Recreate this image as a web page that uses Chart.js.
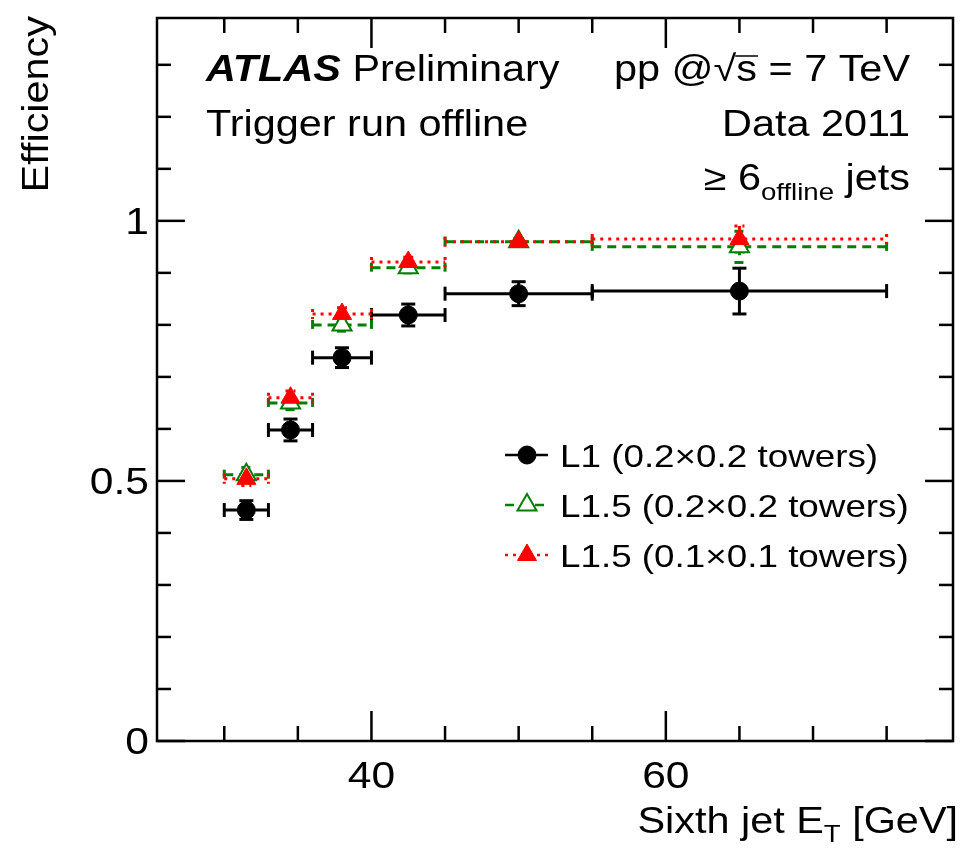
<!DOCTYPE html>
<html>
<head>
<meta charset="utf-8">
<script src="https://cdn.jsdelivr.net/npm/chart.js@4.4.0/dist/chart.umd.min.js"></script>
<style>
html,body{margin:0;padding:0;background:#fff;}
#wrap{width:966px;height:848px;}
</style>
</head>
<body>
<div id="wrap"><canvas id="c" width="966" height="848"></canvas></div>
<script>
// bins in sixth jet ET [GeV]
const binEdges = [30, 33, 36, 40, 45, 55, 75];

// L1 (0.2x0.2 towers)
const l1Eff = [0.444, 0.598, 0.737, 0.819, 0.860, 0.865];
const l1Err = [0.018, 0.021, 0.019, 0.021, 0.023, 0.044];
// L1.5 (0.2x0.2 towers)
const l15wideEff = [0.512, 0.650, 0.800, 0.910, 0.960, 0.950];
const l15wideErr = [0.014, 0.013, 0.012, 0.010, 0.006, 0.030];
// L1.5 (0.1x0.1 towers)
const l15fineEff = [0.504, 0.660, 0.821, 0.921, 0.960, 0.965];
const l15fineErr = [0.013, 0.013, 0.012, 0.009, 0.006, 0.025];

const xTickLabels = [40, 60];
const yTickLabels = [0, 0.5, 1];
const xMinorTicks = [30, 35, 40, 45, 50, 55, 60, 65, 70, 75];
const yMinorTicks = [0, 0.1, 0.2, 0.3, 0.4, 0.5, 0.6, 0.7, 0.8, 0.9, 1, 1.1, 1.2, 1.3];

const FONT = '"Liberation Sans", Arial, sans-serif';
const SX = 1.15;   // root's helvetica runs wider than arial
const GREEN = '#007f00';
const RED = '#ff0000';

function toPoints(eff){
    return eff.map((v,i)=>({x:(binEdges[i]+binEdges[i+1])/2, y:v}));
}

const datasets = [
    { label:'L1 (0.2\u00d70.2 towers)', data:toPoints(l1Eff), err:l1Err,
      pointStyle:'circle', pointRadius:9, backgroundColor:'#000', borderColor:'#000', pointBorderWidth:1,
      dash:[], errWidth:3, cap:7, order:2 },
    { label:'L1.5 (0.2\u00d70.2 towers)', data:toPoints(l15wideEff), err:l15wideErr,
      pointStyle:'triangle', pointRadius:11, backgroundColor:'#fff', borderColor:GREEN, pointBorderWidth:2,
      dash:[9,6], errWidth:3, cap:5, order:1 },
    { label:'L1.5 (0.1\u00d70.1 towers)', data:toPoints(l15fineEff), err:l15fineErr,
      pointStyle:'triangle', pointRadius:11, backgroundColor:RED, borderColor:RED, pointBorderWidth:1,
      dash:[3,5], errWidth:3, cap:5, order:0 }
];

function line(ctx,x0,y0,x1,y1){ ctx.beginPath(); ctx.moveTo(x0,y0); ctx.lineTo(x1,y1); ctx.stroke(); }

// stretched text, returns drawn width
function stext(ctx,str,x,y,align,size,style){
    ctx.save();
    ctx.font=(style?style+' ':'')+size+'px '+FONT;
    const w=ctx.measureText(str).width*SX;
    const x0 = align==='right' ? x-w : align==='center' ? x-w/2 : x;
    ctx.translate(x0,y); ctx.scale(SX,1);
    ctx.textAlign='left';
    ctx.fillText(str,0,0);
    ctx.restore();
    return w;
}
function textWidth(ctx,str,size,style){
    ctx.save(); ctx.font=(style?style+' ':'')+size+'px '+FONT;
    const w=ctx.measureText(str).width*SX; ctx.restore(); return w;
}

// Error bars (bin width + stat error)
const errorBars = {
    id:'errorBars',
    beforeDatasetsDraw(chart){
        const ctx=chart.ctx, xs=chart.scales.x, ys=chart.scales.y;
        ctx.save();
        chart.data.datasets.forEach(ds=>{
            ctx.strokeStyle=ds.borderColor; ctx.lineWidth=ds.errWidth; ctx.setLineDash(ds.dash);
            ds.data.forEach((p,i)=>{
                const x0=xs.getPixelForValue(binEdges[i]), x1=xs.getPixelForValue(binEdges[i+1]);
                const cx=xs.getPixelForValue(p.x), y=ys.getPixelForValue(p.y);
                const yHi=ys.getPixelForValue(p.y+ds.err[i]), yLo=ys.getPixelForValue(p.y-ds.err[i]);
                line(ctx,x0,y,x1,y);
                line(ctx,x0,y-ds.cap,x0,y+ds.cap);
                line(ctx,x1,y-ds.cap,x1,y+ds.cap);
                line(ctx,cx,yHi,cx,yLo);
                line(ctx,cx-ds.cap,yHi,cx+ds.cap,yHi);
                line(ctx,cx-ds.cap,yLo,cx+ds.cap,yLo);
            });
        });
        ctx.restore();
    }
};

// Frame, ticks, labels, texts, legend
const decorations = {
    id:'decorations',
    afterDraw(chart){
        const ctx=chart.ctx, a=chart.chartArea, xs=chart.scales.x, ys=chart.scales.y;
        ctx.save();
        ctx.strokeStyle='#000'; ctx.lineWidth=2.5; ctx.setLineDash([]);
        ctx.strokeRect(a.left,a.top,a.right-a.left,a.bottom-a.top);
        xMinorTicks.forEach(v=>{
            const x=xs.getPixelForValue(v), len=xTickLabels.includes(v)?30:15;
            line(ctx,x,a.bottom,x,a.bottom-len);
            line(ctx,x,a.top,x,a.top+len);
        });
        yMinorTicks.forEach(v=>{
            const y=ys.getPixelForValue(v), len=yTickLabels.includes(v)?28:14;
            line(ctx,a.left,y,a.left+len,y);
            line(ctx,a.right,y,a.right-len,y);
        });

        ctx.fillStyle='#000'; ctx.textBaseline='alphabetic';
        // tick labels from the scales
        xs.ticks.forEach(t=>stext(ctx,String(t.value),xs.getPixelForValue(t.value),788,'center',37));
        ys.ticks.forEach(t=>stext(ctx,String(t.value),149,ys.getPixelForValue(t.value)+13,'right',37));

        // header
        const wA=stext(ctx,'ATLAS ',206,81,'left',36,'italic bold');
        stext(ctx,'Preliminary',206+wA,81,'left',36);
        stext(ctx,'Trigger run offline',206,136,'left',36);
        stext(ctx,'Data 2011',910,136,'right',36);

        // pp @ sqrt(s) = 7 TeV
        const wTail=stext(ctx,' = 7 TeV',910,81,'right',36);
        const wS=textWidth(ctx,'s',36);
        stext(ctx,'s',910-wTail,81,'right',36);
        const sx0=910-wTail-wS;
        stext(ctx,'pp @\u221a',sx0,81,'right',36);
        ctx.lineWidth=1.5;
        line(ctx,sx0-1,56,sx0+wS+1,56);

        // >= 6_offline jets
        const wJ=stext(ctx,' jets',910,190,'right',36);
        const wOff=stext(ctx,'offline',910-wJ,200,'right',24);
        stext(ctx,'\u2265 6',910-wJ-wOff,190,'right',36);

        // axis titles
        const wG=stext(ctx,' [GeV]',958,833,'right',36);
        const wT=stext(ctx,'T',958-wG,842,'right',24);
        stext(ctx,'Sixth jet E',958-wG-wT,833,'right',36);
        ctx.save();
        ctx.translate(48,16); ctx.rotate(-Math.PI/2);
        stext(ctx,'Efficiency',0,0,'right',36);
        ctx.restore();

        // legend
        const rows=[455,505,555];
        chart.data.datasets.forEach((ds,i)=>{
            const y=rows[i];
            ctx.strokeStyle=ds.borderColor; ctx.lineWidth=2.5; ctx.setLineDash(ds.dash);
            line(ctx,505,y,548,y);
            ctx.setLineDash([]);
            ctx.fillStyle=ds.backgroundColor; ctx.lineWidth=ds.pointBorderWidth;
            Chart.helpers.drawPoint(ctx,{pointStyle:ds.pointStyle,radius:ds.pointRadius,rotation:0,borderWidth:ds.pointBorderWidth},527,y);
            ctx.fillStyle='#000';
            stext(ctx,ds.label,560,y+12,'left',32);
        });
        ctx.restore();
    }
};

new Chart(document.getElementById('c').getContext('2d'),{
    type:'scatter',
    data:{ datasets },
    options:{
        responsive:false, animation:false,
        layout:{ padding:{ left:0, top:18, right:5, bottom:0 } },
        plugins:{ legend:{display:false}, tooltip:{enabled:false} },
        scales:{
            x:{ type:'linear', min:25.43, max:79.51,
                grid:{display:false, drawTicks:false}, border:{display:false},
                afterFit(s){ s.height=107; },
                afterBuildTicks(s){ s.ticks=xTickLabels.map(v=>({value:v})); },
                ticks:{ display:false } },
            y:{ type:'linear', min:0, max:1.39,
                grid:{display:false, drawTicks:false}, border:{display:false},
                afterFit(s){ s.width=157; },
                afterBuildTicks(s){ s.ticks=yTickLabels.map(v=>({value:v})); },
                ticks:{ display:false } }
        }
    },
    plugins:[errorBars, decorations]
});
</script>
</body>
</html>
